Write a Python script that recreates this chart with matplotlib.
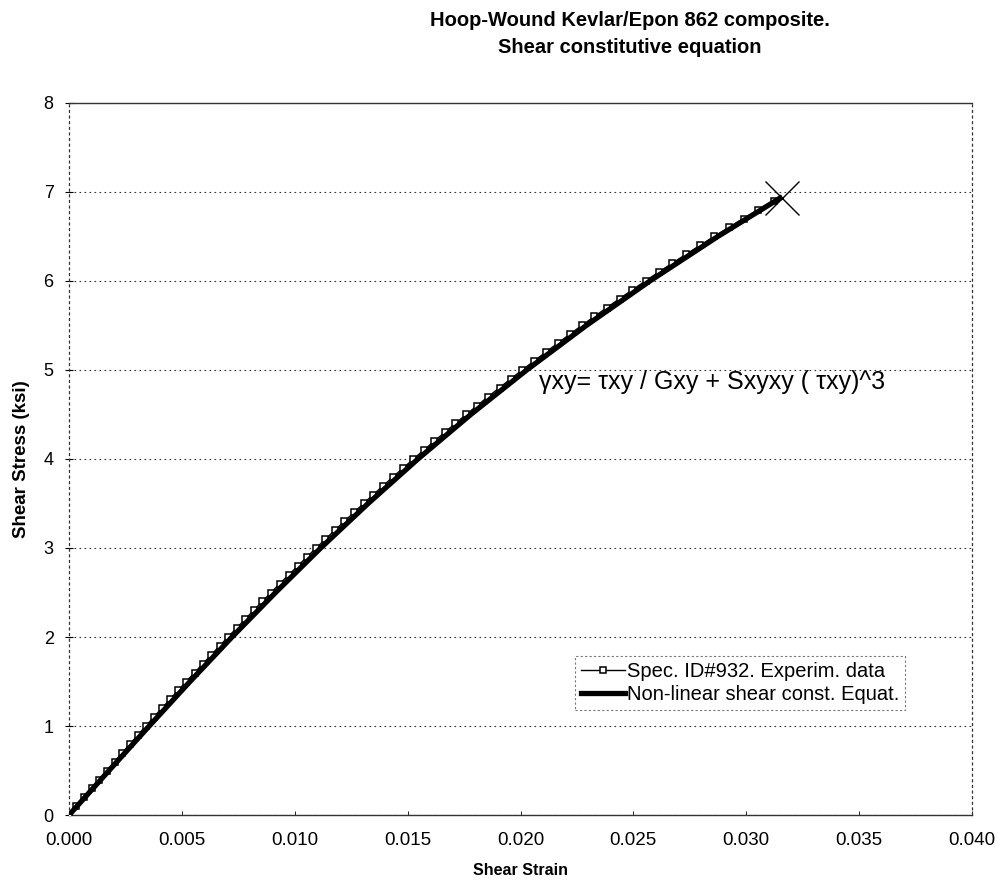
import matplotlib
matplotlib.use("Agg")
import matplotlib.pyplot as plt

plt.rcParams['font.family'] = ['Liberation Sans', 'DejaVu Sans']

exp_stress = [0.0, 0.1, 0.2, 0.3, 0.4, 0.5, 0.6, 0.7, 0.8, 0.9,
              1.0, 1.1, 1.2, 1.3, 1.4, 1.5, 1.6, 1.7, 1.8, 1.9,
              2.0, 2.1, 2.2, 2.3, 2.4, 2.5, 2.6, 2.7, 2.8, 2.9,
              3.0, 3.1, 3.2, 3.3, 3.4, 3.5, 3.6, 3.7, 3.8, 3.9,
              4.0, 4.1, 4.2, 4.3, 4.4, 4.5, 4.6, 4.7, 4.8, 4.9,
              5.0, 5.1, 5.2, 5.3, 5.4, 5.5, 5.6, 5.7, 5.8, 5.9,
              6.0, 6.1, 6.2, 6.3, 6.4, 6.5, 6.6, 6.7, 6.8, 6.9]
exp_strain = [0.0, 0.00033, 0.00067, 0.00100, 0.00134, 0.00168, 0.00202, 0.00236, 0.00270, 0.00305,
              0.00340, 0.00375, 0.00411, 0.00447, 0.00483, 0.00519, 0.00556, 0.00593, 0.00630, 0.00667,
              0.00704, 0.00742, 0.00780, 0.00818, 0.00856, 0.00895, 0.00934, 0.00974, 0.01014, 0.01054,
              0.01095, 0.01136, 0.01178, 0.01220, 0.01262, 0.01305, 0.01348, 0.01392, 0.01436, 0.01481,
              0.01526, 0.01572, 0.01618, 0.01665, 0.01712, 0.01760, 0.01808, 0.01857, 0.01907, 0.01957,
              0.02008, 0.02060, 0.02112, 0.02165, 0.02218, 0.02272, 0.02327, 0.02383, 0.02439, 0.02496,
              0.02554, 0.02613, 0.02673, 0.02734, 0.02796, 0.02859, 0.02923, 0.02988, 0.03054, 0.03122]

# --- non-linear constitutive equation curve ---
eq_stress = [0.0, 0.5, 1.0, 1.5, 2.0, 2.5, 3.0, 3.5, 4.0, 4.5, 5.0, 5.5, 6.0, 6.5, 6.93]
eq_strain = [0.0, 0.00177, 0.00355, 0.00536, 0.00722, 0.00915, 0.01115, 0.01325,
             0.01546, 0.01780, 0.02028, 0.02292, 0.02574, 0.02875, 0.03150]

# failure point
fail_strain = [0.0316]
fail_stress = [6.93]

x_ticks = [0.000, 0.005, 0.010, 0.015, 0.020, 0.025, 0.030, 0.035, 0.040]
y_ticks = [0, 1, 2, 3, 4, 5, 6, 7, 8]

fig = plt.figure(figsize=(10, 8.86), dpi=100)
ax = fig.add_axes([0.069, 0.080, 0.903, 0.804])

ax.plot(exp_strain, exp_stress, color='black', linewidth=1.0, marker='s', markersize=5,
        markerfacecolor='white', markeredgecolor='black', markeredgewidth=1.1,
        label='Spec. ID#932. Experim. data', zorder=3)
ax.plot(eq_strain, eq_stress, color='black', linewidth=3.8,
        label='Non-linear shear const. Equat.', zorder=4)
ax.plot(fail_strain, fail_stress, linestyle='none', marker='x', markersize=24,
        markeredgewidth=1.0, color='black', zorder=5)

ax.set_xlim(0, 0.040)
ax.set_ylim(0, 8)
ax.set_xticks(x_ticks)
ax.set_xticklabels([f'{v:.3f}' for v in x_ticks])
ax.set_yticks(y_ticks)
ax.tick_params(axis='x', labelsize=13.5, length=3, width=0.6, direction='in', pad=12)
ax.tick_params(axis='y', labelsize=13, length=6, width=0.8, direction='inout', pad=8)

ax.yaxis.grid(True, linestyle=(0, (1.5, 3)), color='#333333', linewidth=0.8)
ax.xaxis.grid(False)
ax.set_axisbelow(True)

for side in ['top', 'bottom']:
    ax.spines[side].set_linewidth(1.0)
    ax.spines[side].set_color('#333333')
for side in ['left', 'right']:
    ax.spines[side].set_linestyle((0, (1.5, 3)))
    ax.spines[side].set_linewidth(0.9)
    ax.spines[side].set_color('#333333')

ax.set_xlabel('Shear Strain', fontsize=11.5, fontweight='bold', labelpad=10)
ax.set_ylabel('Shear Stress (ksi)', fontsize=13.5, fontweight='bold', labelpad=10)

fig.text(0.63, 0.988, 'Hoop-Wound Kevlar/Epon 862 composite.\nShear constitutive equation',
         ha='center', va='top', fontsize=14.5, fontweight='bold', linespacing=1.55)

ax.text(0.0208, 4.86, '\u03b3xy= \u03c4xy / Gxy + Sxyxy ( \u03c4xy)^3', fontsize=18,
        ha='left', va='center')

leg = ax.legend(loc='lower left', bbox_to_anchor=(0.560, 0.148), fontsize=14.5,
                frameon=True, fancybox=False, handlelength=2.2, handletextpad=0.1,
                borderpad=0.3, labelspacing=0.2, borderaxespad=0)
leg.get_frame().set_edgecolor('#555555')
leg.get_frame().set_linewidth(0.8)
leg.get_frame().set_linestyle((0, (2, 2)))

fig.savefig('out.png', dpi=100)
